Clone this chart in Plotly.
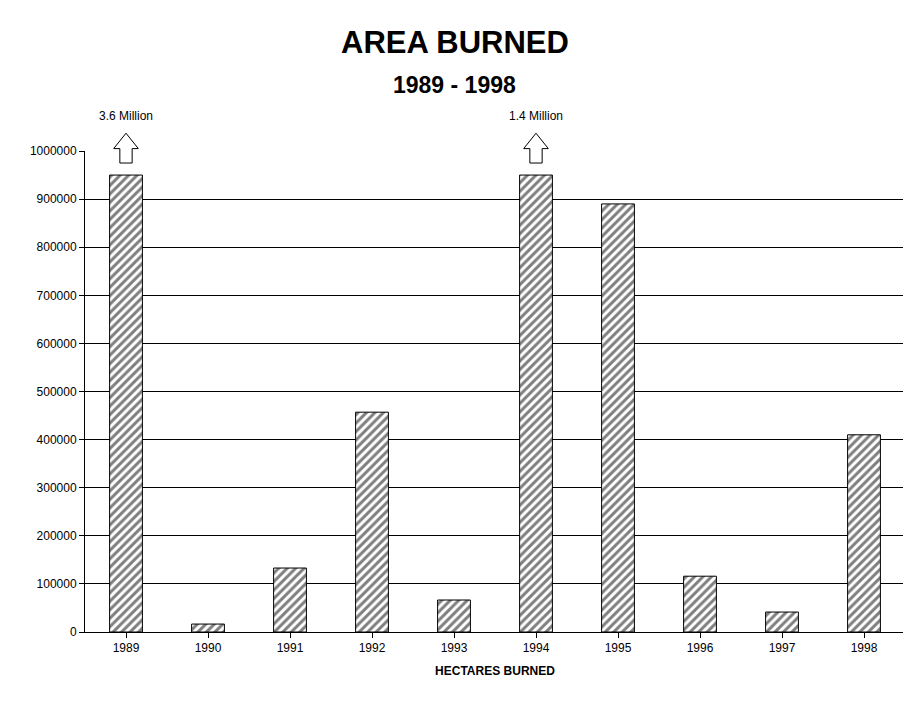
import plotly.graph_objects as go

years = ["1989","1990","1991","1992","1993","1994","1995","1996","1997","1998"]
hectares = [950000, 16500, 133000, 457000, 66500, 950000, 890000, 116000, 41500, 410000]
off_scale = {"1989": "3.6 Million", "1994": "1.4 Million"}
yticks = list(range(0, 1000001, 100000))

fig = go.Figure(go.Bar(
    x=list(range(len(years))), y=hectares, width=0.4,
    marker=dict(color="white", line=dict(color="black", width=1),
                pattern=dict(shape="/", fgcolor="black", bgcolor="white", size=6, solidity=0.5)),
))

shapes, annos = [], []
for yr, label in off_scale.items():
    i = years.index(yr)
    top, base, bot = 1.037, 1.005, 0.975
    hw, sw = 0.15, 0.075
    path = (f"M {i-sw},{bot} L {i-sw},{base} L {i-hw},{base} L {i},{top} "
            f"L {i+hw},{base} L {i+sw},{base} L {i+sw},{bot} Z")
    shapes.append(dict(type="path", xref="x", yref="paper", path=path,
                       line=dict(color="black", width=1), fillcolor="white"))
    annos.append(dict(x=i, y=1.092, xref="x", yref="paper", text=label, showarrow=False,
                      font=dict(size=12, color="black")))

annos.append(dict(x=0.451, y=1.266, xref="paper", yref="paper", text="<b>AREA BURNED</b>",
                  showarrow=False, font=dict(size=31, color="black")))
annos.append(dict(x=0.451, y=1.168, xref="paper", yref="paper", text="<b>1989 - 1998</b>",
                  showarrow=False, font=dict(size=23, color="black")))

fig.update_layout(
    width=911, height=701, paper_bgcolor="white", plot_bgcolor="white",
    margin=dict(l=77, r=14, t=143, b=77), showlegend=False,
    font=dict(family="Liberation Sans, Arial", size=12, color="black"),
    shapes=shapes, annotations=annos,
    xaxis=dict(tickmode="array", tickvals=list(range(len(years))), ticktext=years,
               range=[-0.5, len(years)-0.5], showline=True, linecolor="black", mirror=False,
               ticks="outside", ticklen=5, tickcolor="black", showgrid=False,
               title=dict(text="<b>HECTARES BURNED</b>", font=dict(size=12), standoff=12)),
    yaxis=dict(range=[0, 1000000], tickvals=yticks, tickformat="d", showline=True,
               linecolor="black", ticks="outside", ticklen=5, tickcolor="black",
               showgrid=True, gridcolor="black", gridwidth=1, zeroline=False),
)
fig.write_html("out.html")
